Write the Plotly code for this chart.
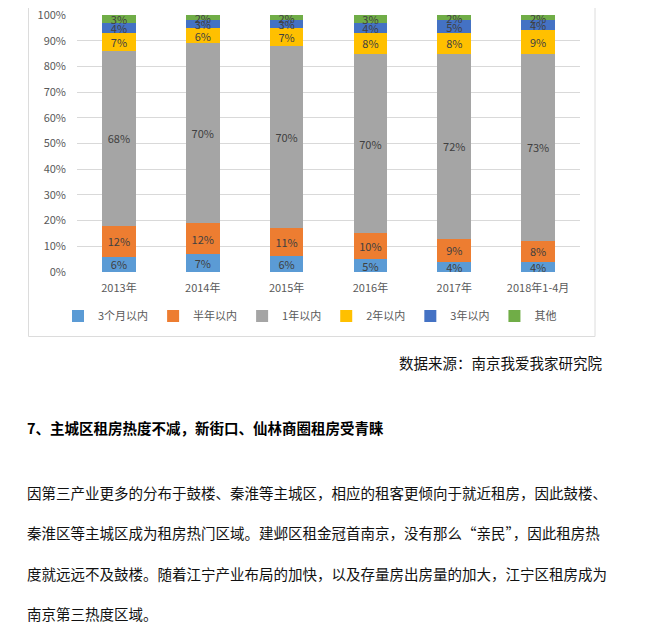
import plotly.graph_objects as go

years = ["2013年", "2014年", "2015年", "2016年", "2017年", "2018年1-4月"]
series_names = ["3个月以内", "半年以内", "1年以内", "2年以内", "3年以内", "其他"]
within_3m = [6, 7, 6, 5, 4, 4]
within_6m = [12, 12, 11, 10, 9, 8]
within_1y = [68, 70, 70, 70, 72, 73]
within_2y = [7, 6, 7, 8, 8, 9]
within_3y = [4, 3, 3, 4, 5, 4]
others = [3, 2, 2, 3, 2, 2]
series_values = [within_3m, within_6m, within_1y, within_2y, within_3y, others]
colors = ["#5B9BD5", "#ED7D31", "#A5A5A5", "#FFC000", "#4472C4", "#70AD47"]

source_text = "数据来源：南京我爱我家研究院"
heading = "7、主城区租房热度不减，新街口、仙林商圈租房受青睐"
paragraph = [
    "因第三产业更多的分布于鼓楼、秦淮等主城区，相应的租客更倾向于就近租房，因此鼓楼、",
    "秦淮区等主城区成为租房热门区域。建邺区租金冠首南京，没有那么“亲民”，因此租房热",
    "度就远远不及鼓楼。随着江宁产业布局的加快，以及存量房出房量的加大，江宁区租房成为",
    "南京第三热度区域。",
]

W, H = 650, 636
OFF = 8  # page body margin
# desired on-screen plot area: x 77..580, y 15..272
L = 77 - OFF
T = 15 - OFF
PW = 580 - 77
PH = 272 - 15
R = W - L - PW
B = H - T - PH
FONT = "Noto Sans CJK SC"


def fx(sx):
    return (sx - OFF - L) / PW


def fy(sy):
    return (T + PH - (sy - OFF)) / PH


fig = go.Figure()
for name, vals, col in zip(series_names, series_values, colors):
    fig.add_trace(go.Bar(
        x=years, y=vals, name=name,
        marker=dict(color=col, line=dict(width=0)),
        text=[f"{v}%" for v in vals],
        textposition="inside", insidetextanchor="middle",
        textangle=0, constraintext="none",
        textfont=dict(family=FONT, size=11, color="#404040"),
        hoverinfo="skip",
    ))

annotations = [
    dict(text=source_text, x=fx(604), y=fy(362), xanchor="right", yanchor="middle",
         font=dict(family=FONT, size=14.5, color="#111111")),
    dict(text=f"<b>{heading}</b>", x=fx(25), y=fy(427), xanchor="left", yanchor="middle",
         font=dict(family=FONT, size=14.5, color="#000000")),
]
for i, line in enumerate(paragraph):
    annotations.append(dict(text=line, x=fx(25), y=fy(492 + i * 40.5), xanchor="left",
                            yanchor="middle",
                            font=dict(family=FONT, size=14.5, color="#111111")))
for a in annotations:
    a.update(xref="paper", yref="paper", showarrow=False)

fig.update_layout(
    width=W, height=H,
    margin=dict(l=L, r=R, t=T, b=B, autoexpand=False),
    barmode="stack", barnorm="percent", bargap=0.6,
    paper_bgcolor="white", plot_bgcolor="white",
    font=dict(family=FONT, size=11, color="#595959"),
    showlegend=True,
    legend=dict(orientation="h", x=fx(310), xanchor="center", y=fy(316), yanchor="middle",
                font=dict(family=FONT, size=11, color="#595959"),
                traceorder="normal", itemwidth=30, bgcolor="rgba(0,0,0,0)"),
    xaxis=dict(showgrid=False, showline=False, ticks="", ticklabelstandoff=8,
               automargin=False, ticklabeloverflow="allow",
               tickfont=dict(family=FONT, size=11, color="#595959")),
    yaxis=dict(range=[0, 100], dtick=10, ticksuffix="%", showgrid=True,
               gridcolor="#D9D9D9", gridwidth=1, zeroline=False, showline=False,
               ticks="", ticklabelstandoff=10, automargin=False,
               ticklabeloverflow="allow",
               tickfont=dict(family=FONT, size=11, color="#595959")),
    shapes=[dict(type="rect", xref="paper", yref="paper",
                 x0=fx(28.5), x1=fx(595), y0=fy(336.5), y1=fy(-20),
                 line=dict(color="#DCDCDC", width=1), fillcolor="rgba(0,0,0,0)",
                 layer="below")],
    annotations=annotations,
)

fig.write_html("out.html")
